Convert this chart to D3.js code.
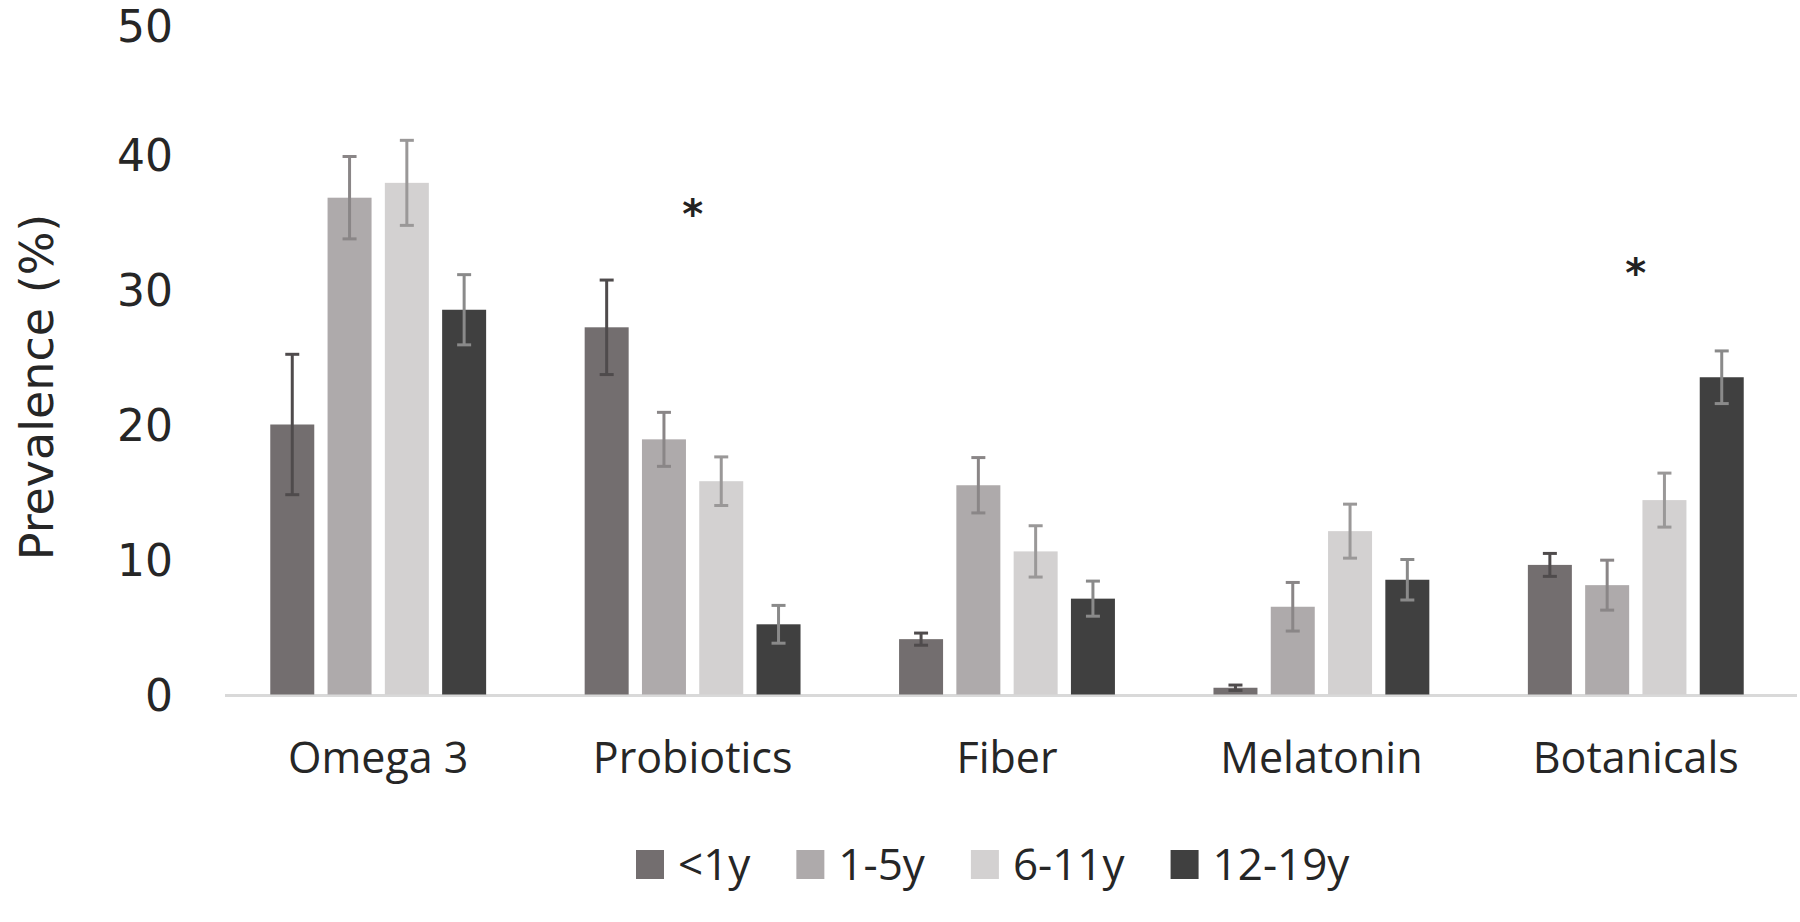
<!DOCTYPE html>
<html>
<head>
<meta charset="utf-8">
<script src="https://cdn.jsdelivr.net/npm/d3@7"></script>
<style>
  html, body { margin: 0; padding: 0; background: #ffffff; }
  svg { display: block; }
</style>
</head>
<body>
<svg id="chart" width="1800" height="922"></svg>
<script>
// ---- data ----
const categories = ["Omega 3", "Probiotics", "Fiber", "Melatonin", "Botanicals"];
const ageGroups = ["<1y", "1-5y", "6-11y", "12-19y"];
const valuesLt1  = [20.0, 27.2, 4.1, 0.5, 9.6];
const values1to5 = [36.8, 18.9, 15.5, 6.5, 8.1];
const values6to11 = [37.9, 15.8, 10.6, 12.1, 14.4];
const values12to19 = [28.5, 5.2, 7.1, 8.5, 23.5];
const errLt1  = [5.2, 3.5, 0.45, 0.2, 0.85];
const err1to5 = [3.05, 2.0, 2.05, 1.8, 1.85];
const err6to11 = [3.15, 1.8, 1.9, 2.0, 2.0];
const err12to19 = [2.6, 1.4, 1.3, 1.5, 1.95];
const yTicks = [0, 10, 20, 30, 40, 50];
const significant = [{ category: "Probiotics", y: 36.2 }, { category: "Botanicals", y: 31.8 }];
const yTitle = "Prevalence (%)";

const seriesValues = [valuesLt1, values1to5, values6to11, values12to19];
const seriesErrors = [errLt1, err1to5, err6to11, err12to19];
const barColors = ["#736e6f", "#aeaaab", "#d3d1d1", "#404040"];
const errColors = ["#4f4b4c", "#8a8687", "#9a9898", "#8a8a8a"];

const rows = [];
categories.forEach((c, i) => {
  ageGroups.forEach((g, j) => {
    rows.push({ category: c, group: g, gi: j, value: seriesValues[j][i], err: seriesErrors[j][i] });
  });
});

const svg = d3.select("#chart");

const x0 = d3.scaleBand().domain(categories).range([221, 1793]).padding(0);
const x1 = d3.scaleBand().domain(ageGroups).range([0, x0.bandwidth()])
  .paddingInner(0.232).paddingOuter(0.86);
const y = d3.scaleLinear().domain([0, 50]).range([694.5, 19.5]);

// baseline
svg.append("line")
  .attr("x1", 225).attr("x2", 1797)
  .attr("y1", y(0) + 1).attr("y2", y(0) + 1)
  .attr("stroke", "#d9d9d9").attr("stroke-width", 3);

// y axis (labels only)
const yAxis = d3.axisLeft(y).tickValues(yTicks).tickSize(0).tickPadding(0);
const gy = svg.append("g").attr("transform", "translate(173,0)").call(yAxis);
gy.select(".domain").remove();
gy.selectAll("text")
  .attr("font-family", "DejaVu Sans")
  .attr("font-size", 44)
  .attr("fill", "#262626")
  .attr("dy", "0.36em");
// keep the top label inside the picture
gy.selectAll(".tick").each(function () {
  const t = d3.select(this).select("text");
  const bb = this.getBoundingClientRect();
  if (bb.top < 0) {
    t.attr("dy", null).attr("y", Number(t.attr("y") || 0) - bb.top + 15.8 + 1);
  }
});

// y title
svg.append("text")
  .attr("transform", "translate(53," + 387 + ") rotate(-90)")
  .attr("text-anchor", "middle")
  .attr("font-family", "DejaVu Sans")
  .attr("font-size", 46)
  .attr("fill", "#262626")
  .text(yTitle);

// x axis labels
const xAxis = d3.axisBottom(x0).tickSize(0).tickPadding(0);
const gx = svg.append("g").attr("transform", "translate(0,773)").call(xAxis);
gx.select(".domain").remove();
gx.selectAll("text")
  .attr("font-family", "Open Sans")
  .attr("font-size", 43)
  .attr("fill", "#262626")
  .attr("dy", 0)
  .attr("y", 0);

// bars
svg.append("g").selectAll("rect").data(rows).join("rect")
  .attr("x", d => x0(d.category) + x1(d.group))
  .attr("y", d => y(d.value))
  .attr("width", x1.bandwidth())
  .attr("height", d => y(0) - y(d.value))
  .attr("fill", d => barColors[d.gi]);

// error bars
const cx = d => x0(d.category) + x1(d.group) + x1.bandwidth() / 2;
const eg = svg.append("g").selectAll("g").data(rows).join("g")
  .attr("stroke", d => errColors[d.gi]).attr("stroke-width", 3);
eg.append("line")
  .attr("x1", cx).attr("x2", cx)
  .attr("y1", d => y(d.value + d.err))
  .attr("y2", d => y(Math.max(0, d.value - d.err)));
eg.append("line")
  .attr("x1", d => cx(d) - 7).attr("x2", d => cx(d) + 7)
  .attr("y1", d => y(d.value + d.err))
  .attr("y2", d => y(d.value + d.err));
eg.append("line")
  .attr("x1", d => cx(d) - 7).attr("x2", d => cx(d) + 7)
  .attr("y1", d => y(Math.max(0, d.value - d.err)))
  .attr("y2", d => y(Math.max(0, d.value - d.err)));

// significance asterisks
svg.append("g").selectAll("text").data(significant).join("text")
  .attr("x", d => x0(d.category) + x0.bandwidth() / 2)
  .attr("y", d => y(d.y) + 22)
  .attr("text-anchor", "middle")
  .attr("font-family", "DejaVu Sans")
  .attr("font-weight", "bold")
  .attr("font-size", 40)
  .attr("fill", "#222")
  .text("*");

// legend
const legend = svg.append("g");
let lx = 636;
ageGroups.forEach((g, j) => {
  legend.append("rect")
    .attr("x", lx).attr("y", 850).attr("width", 28).attr("height", 29)
    .attr("fill", barColors[j]);
  const t = legend.append("text")
    .attr("x", lx + 42).attr("y", 880)
    .attr("font-family", "Open Sans")
    .attr("font-size", 44)
    .attr("fill", "#262626")
    .text(g);
  lx += 42 + t.node().getComputedTextLength() + 46;
});
</script>
</body>
</html>
